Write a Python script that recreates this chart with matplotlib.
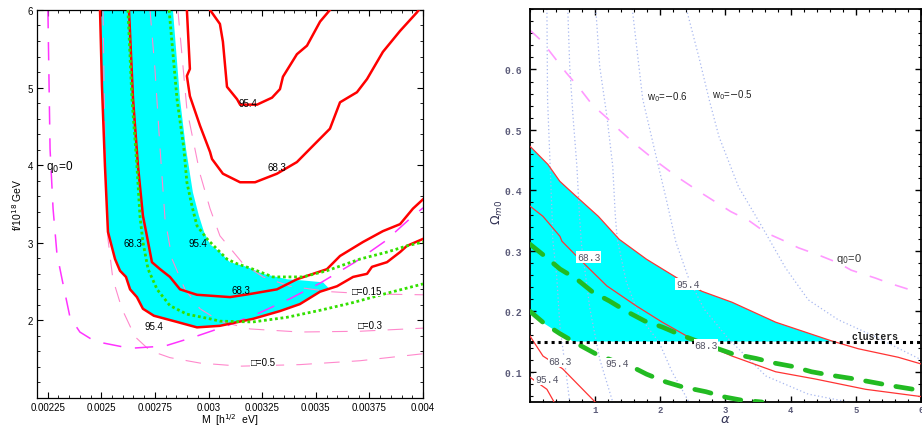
import numpy as np
import matplotlib
matplotlib.use('Agg')
import matplotlib.pyplot as plt
from matplotlib.ticker import MultipleLocator

plt.rcParams['font.family'] = ['Liberation Sans', 'DejaVu Sans']

# ---------------- left panel: M [1e-3 eV] vs f/1e18 GeV ----------------
red95_out_m = [2.494, 2.503, 2.517, 2.526, 2.531, 2.564, 2.587, 2.615, 2.634, 2.666, 2.694, 2.745, 2.853, 2.946,
               3.053, 3.207, 3.333, 3.426, 3.520, 3.599, 3.674, 3.739, 3.762, 3.832, 3.893, 3.925, 4.000]
red95_out_f = [6.00, 5.02, 3.99, 3.44, 3.14, 2.79, 2.64, 2.56, 2.40, 2.30, 2.15, 2.06, 1.98, 1.91,
               1.93, 2.02, 2.12, 2.21, 2.37, 2.44, 2.56, 2.60, 2.69, 2.75, 2.88, 2.96, 3.05]

cyan_edge_m = [3.566, 3.534, 3.459, 3.366, 3.254, 3.179, 3.100, 3.053, 3.007, 2.979, 2.955, 2.927, 2.895, 2.867, 2.834]
cyan_edge_f = [2.40, 2.49, 2.51, 2.53, 2.60, 2.69, 2.75, 2.88, 2.98, 3.14, 3.35, 3.65, 4.21, 4.85, 6.00]

red68_in_m = [2.629, 2.648, 2.671, 2.694, 2.718, 2.736, 2.774, 2.820, 2.867, 2.946, 3.100, 3.193, 3.319, 3.412,
              3.552, 3.613, 3.720, 3.813, 3.893, 3.953, 4.000]
red68_in_f = [6.00, 4.85, 3.99, 3.35, 3.01, 2.75, 2.66, 2.56, 2.40, 2.33, 2.30, 2.34, 2.40, 2.53,
              2.66, 2.83, 3.01, 3.15, 3.24, 3.44, 3.56]

red95_top_m = [3.007, 3.053, 3.067, 3.086, 3.133, 3.147, 3.226, 3.296, 3.333, 3.347, 3.412, 3.459, 3.520, 3.566]
red95_top_f = [6.00, 5.82, 5.59, 5.01, 4.85, 4.78, 4.78, 4.87, 4.98, 5.14, 5.43, 5.54, 5.85, 6.00]

red68_top_m = [2.899, 2.913, 2.899, 2.913, 2.960, 3.007, 3.016, 3.067, 3.147, 3.217, 3.319, 3.412, 3.487, 3.566,
               3.613, 3.692, 3.739, 3.813, 3.893, 3.972, 3.980]
red68_top_f = [6.00, 5.24, 5.15, 4.89, 4.51, 4.17, 4.08, 3.89, 3.78, 3.78, 3.89, 4.04, 4.25, 4.47,
               4.81, 4.94, 5.11, 5.46, 5.73, 5.97, 6.00]

green_in_m = [2.624, 2.643, 2.666, 2.680, 2.694, 2.718, 2.760, 2.820, 2.899, 3.007, 3.053, 3.207, 3.366, 3.520,
              3.674, 3.832, 4.000]
green_in_f = [6.00, 4.85, 3.99, 3.35, 3.01, 2.66, 2.40, 2.19, 2.08, 2.02, 1.99, 1.98, 2.04, 2.13, 2.23, 2.35, 2.47]

green_out_m = [2.816, 2.853, 2.885, 2.899, 2.923, 2.946, 2.993, 3.039, 3.086, 3.133, 3.207, 3.300, 3.440, 3.552,
               3.706, 3.832, 3.925, 4.000]
green_out_f = [6.00, 4.85, 4.21, 3.78, 3.47, 3.22, 3.05, 2.92, 2.79, 2.73, 2.66, 2.56, 2.56, 2.64, 2.79, 2.88, 2.96, 3.01]

q0_m = [2.251, 2.261, 2.275, 2.293, 2.317, 2.354, 2.400, 2.470, 2.634, 2.797, 2.937, 3.086, 3.240, 3.380,
        3.520, 3.683, 3.823, 3.939, 4.000]
q0_f = [6.00, 4.21, 3.44, 2.86, 2.53, 2.04, 1.85, 1.73, 1.64, 1.67, 1.79, 1.93, 2.10, 2.28, 2.48, 2.75, 3.02, 3.31, 3.45]

om015_m = [2.857, 2.899, 2.960, 3.007, 3.053, 3.161, 3.254, 3.380, 3.566, 3.753, 4.000]
om015_f = [6.00, 4.72, 3.89, 3.44, 3.09, 2.73, 2.56, 2.44, 2.37, 2.34, 2.33]
om03_m = [2.727, 2.750, 2.774, 2.797, 2.830, 2.890, 2.960, 3.053, 3.193, 3.426, 3.706, 4.000]
om03_f = [6.00, 5.24, 4.21, 3.31, 2.79, 2.40, 2.15, 1.99, 1.89, 1.85, 1.86, 1.90]
om05_m = [2.508, 2.517, 2.531, 2.554, 2.596, 2.657, 2.727, 2.820, 2.960, 3.147, 3.426, 3.706, 4.000]
om05_f = [6.00, 4.21, 3.05, 2.53, 2.15, 1.79, 1.61, 1.52, 1.45, 1.41, 1.43, 1.48, 1.57]

m_ticks = [0.00225, 0.0025, 0.00275, 0.003, 0.00325, 0.0035, 0.00375, 0.004]
m_tick_labels = ['0.00225', '0.0025', '0.00275', '0.003', '0.00325', '0.0035', '0.00375', '0.004']
f_ticks = [2, 3, 4, 5, 6]

left_labels = [('68.3', 2.648, 3.00), ('95.4', 2.951, 3.00), ('95.4', 2.745, 1.93), ('68.3', 3.151, 2.39),
               ('95.4', 3.184, 4.80), ('68.3', 3.319, 3.98)]
omega_labels = [('\u25a1=0.15', 3.739, 2.38), ('\u25a1=0.3', 3.753, 1.94), ('\u25a1=0.5', 3.254, 1.46)]

# ---------------- right panel: alpha vs Omega_m0 ----------------
r95_up_a = [0, 0.275, 0.458, 0.71, 1.05, 1.37, 1.79, 2.29, 2.64, 3.10, 3.77, 4.63, 5.04, 5.65, 6.0]
r95_up_o = [0.473, 0.443, 0.415, 0.39, 0.357, 0.319, 0.286, 0.253, 0.233, 0.215, 0.182, 0.151, 0.138, 0.124, 0.113]
r68_up_a = [0, 0.2, 0.46, 0.49, 0.81, 1.18, 1.63, 2.03, 2.49, 2.95, 3.10, 3.77, 4.38, 5.15, 6.0]
r68_up_o = [0.374, 0.357, 0.324, 0.316, 0.281, 0.242, 0.209, 0.182, 0.154, 0.133, 0.126, 0.100, 0.088, 0.071, 0.059]
r68_lo_a = [0, 0.2, 0.5, 1.0]
r68_lo_o = [0.159, 0.126, 0.105, 0.05]
r95_lo_a = [0, 0.26, 0.37]
r95_lo_o = [0.091, 0.071, 0.05]

g_up_a = [0, 0.23, 0.46, 0.72, 0.96, 1.22, 1.48, 1.76, 2.03, 2.29, 2.70, 3.10, 3.47, 3.77, 4.02, 4.32, 4.63,
          4.93, 5.19, 5.54, 6.0]
g_up_o = [0.311, 0.291, 0.27, 0.253, 0.232, 0.217, 0.2, 0.184, 0.174, 0.162, 0.145, 0.13, 0.122, 0.114, 0.109,
          0.1, 0.094, 0.089, 0.084, 0.077, 0.069]
g_lo_a = [0, 0.23, 0.46, 0.73, 1.02, 1.33, 1.57, 1.79, 2.09, 2.34, 2.70, 3.0, 3.25, 3.56]
g_lo_o = [0.2, 0.179, 0.163, 0.146, 0.129, 0.116, 0.108, 0.096, 0.083, 0.075, 0.067, 0.058, 0.053, 0.05]

w_lines = [
    ([0.26, 0.27, 0.31, 0.34, 0.35, 0.41, 0.46, 0.56, 0.61],
     [0.70, 0.55, 0.44, 0.357, 0.319, 0.258, 0.175, 0.093, 0.05]),
    ([0.58, 0.61, 0.66, 0.72, 0.76, 0.79, 0.92, 1.07, 1.27],
     [0.70, 0.605, 0.523, 0.44, 0.357, 0.311, 0.204, 0.121, 0.05]),
    ([1.01, 1.07, 1.18, 1.27, 1.31, 1.34, 1.48, 1.68, 1.98, 2.18, 2.44],
     [0.70, 0.605, 0.523, 0.44, 0.357, 0.319, 0.248, 0.192, 0.149, 0.10, 0.05]),
    ([1.57, 1.73, 1.91, 2.09, 2.24, 2.44, 2.67, 3.05, 3.62, 4.27, 4.89],
     [0.70, 0.551, 0.468, 0.386, 0.314, 0.253, 0.204, 0.154, 0.093, 0.063, 0.05]),
    ([2.40, 2.60, 2.75, 2.90, 3.20, 3.56, 3.92, 4.27, 4.73, 5.30, 6.0],
     [0.70, 0.617, 0.55, 0.489, 0.406, 0.34, 0.272, 0.219, 0.186, 0.158, 0.12]),
]

q0r_a = [0, 0.18, 0.41, 0.56, 0.76, 0.96, 1.18, 1.37, 1.63, 1.94, 2.29, 2.64, 3.08, 3.36, 3.62, 3.87, 4.12,
         4.43, 4.73, 4.93, 5.30, 5.50, 5.85, 6.0]
q0r_o = [0.665, 0.647, 0.615, 0.594, 0.569, 0.541, 0.52, 0.50, 0.475, 0.448, 0.42, 0.395, 0.365, 0.35, 0.33,
         0.318, 0.305, 0.293, 0.28, 0.268, 0.255, 0.247, 0.235, 0.23]
clusters_omega = 0.15

right_labels = [('68.3', 0.72, 0.29), ('95.4', 2.24, 0.245), ('68.3', 2.52, 0.144),
                ('68.3', 0.28, 0.118), ('95.4', 0.08, 0.088), ('95.4', 1.15, 0.114)]

fig = plt.figure(figsize=(9.22, 4.27), dpi=100)
ax1 = fig.add_axes([0.0401, 0.0656, 0.4187, 0.9087])
ax2 = fig.add_axes([0.5748, 0.0562, 0.4241, 0.9204])

def mm(v):
    return np.array(v) * 1e-3

# cyan band
k = 19
poly_m = np.concatenate([mm(red95_out_m[:k]), mm(cyan_edge_m)])
poly_f = np.concatenate([red95_out_f[:k], cyan_edge_f])
ax1.fill(poly_m, poly_f, color='#00ffff', lw=0, zorder=1)

for om_m, om_f in [(om015_m, om015_f), (om03_m, om03_f), (om05_m, om05_f)]:
    ax1.plot(mm(om_m), om_f, color='#ff88cc', lw=0.8, dashes=(14, 11), zorder=2)
ax1.plot(mm(q0_m), q0_f, color='#ff33ff', lw=1.1, dashes=(12, 9), zorder=2)

for rm, rf in [(red95_out_m, red95_out_f), (red68_in_m, red68_in_f),
               (red95_top_m, red95_top_f), (red68_top_m, red68_top_f)]:
    ax1.plot(mm(rm), rf, color='#ff0000', lw=1.8, zorder=3)

for gm, gf in [(green_in_m, green_in_f), (green_out_m, green_out_f)]:
    ax1.plot(mm(gm), gf, color='#33e000', lw=2.0, linestyle=(0, (1, 1)), zorder=4)

for txt, lm, lf in left_labels:
    ax1.text(lm * 1e-3, lf, txt, fontsize=7, ha='center', va='center', zorder=5)
for txt, lm, lf in omega_labels:
    ax1.text(lm * 1e-3, lf, txt, fontsize=7, ha='center', va='center', zorder=5,
             bbox=dict(facecolor='white', edgecolor='none', pad=0.3))
ax1.text(0.002243, 3.99, r'q$_0$=0', fontsize=8.5, ha='left', va='center', zorder=5)

ax1.set_xlim(0.0022, 0.004)
ax1.set_ylim(1, 6)
ax1.set_xticks(m_ticks)
ax1.set_xticklabels(m_tick_labels)
ax1.set_yticks(f_ticks)
ax1.set_yticklabels([str(t) for t in f_ticks])
ax1.xaxis.set_minor_locator(MultipleLocator(0.00005))
ax1.yaxis.set_minor_locator(MultipleLocator(0.2))
ax1.tick_params(which='both', direction='in', top=True, right=True, labelsize=7, pad=3)
ax1.tick_params(which='major', length=4, width=0.8)
ax1.tick_params(which='minor', length=2, width=0.6)
ax1.set_xlabel(r'M  [h$^{1/2}$  eV]', fontsize=7.5, va='center')
ax1.xaxis.set_label_coords(0.5, -0.054)
ax1.set_ylabel(r'f/10$^{18}$ GeV', fontsize=7.5, va='center')
ax1.yaxis.set_label_coords(-0.052, 0.5)
for sp in ax1.spines.values():
    sp.set_linewidth(0.9)

# ---------------- right panel ----------------
ra = np.array(r95_up_a)
ro = np.array(r95_up_o)
keep = ro >= clusters_omega
x_cross = np.interp(clusters_omega, ro[::-1], ra[::-1])
ga = np.array(g_lo_a)
go = np.array(g_lo_o)
g_keep = go >= clusters_omega
g_cross = np.interp(clusters_omega, go[::-1], ga[::-1])
cyan_a = np.concatenate([[0], ra[keep], [x_cross, g_cross], ga[g_keep][::-1]])
cyan_o = np.concatenate([[ro[0]], ro[keep], [clusters_omega, clusters_omega], go[g_keep][::-1]])
ax2.fill(cyan_a, cyan_o, color='#00ffff', lw=0, zorder=1)

for wa, wo in w_lines:
    ax2.plot(wa, wo, color='#a8b8f0', lw=0.9, linestyle=(0, (1, 2)), zorder=2)
ax2.plot(q0r_a, q0r_o, color='#ff99ff', lw=1.2, dashes=(8, 8), zorder=2)

for a_, o_ in [(r95_up_a, r95_up_o), (r68_up_a, r68_up_o), (r68_lo_a, r68_lo_o), (r95_lo_a, r95_lo_o)]:
    ax2.plot(a_, o_, color='#ff3333', lw=0.9, zorder=3)

for a_, o_ in [(g_up_a, g_up_o), (g_lo_a, g_lo_o)]:
    ax2.plot(a_, o_, color='#22bb22', lw=3.4, dashes=(3.5, 3), dash_capstyle='round', zorder=4)

ax2.axhline(clusters_omega, color='black', lw=2.2, linestyle=(0, (1, 1.3)), zorder=5)

mono = ['Liberation Mono', 'DejaVu Sans Mono']
for txt, la, lo in right_labels:
    ax2.text(la, lo, txt, fontsize=7, family=mono, color='#555566', ha='left', va='center', zorder=6,
             bbox=dict(facecolor='white', edgecolor='none', pad=0.5))
ax2.text(4.93, 0.159, 'clusters', fontsize=7, family=mono, fontweight='bold', color='#222222',
         ha='left', va='center', zorder=6)
ax2.text(1.79, 0.556, r'w$_0$=$-$0.6', fontsize=7, ha='left', va='center', color='#222222', zorder=6)
ax2.text(2.79, 0.559, r'w$_0$=$-$0.5', fontsize=7, ha='left', va='center', color='#222222', zorder=6)
ax2.text(4.70, 0.288, r'q$_0$=0', fontsize=8, ha='left', va='center', color='#333333', zorder=6)

ax2.set_xlim(0, 6)
ax2.set_ylim(0.05, 0.7)
ax2.set_xticks([1, 2, 3, 4, 5, 6])
ax2.set_yticks([0.1, 0.2, 0.3, 0.4, 0.5, 0.6])
ax2.xaxis.set_minor_locator(MultipleLocator(0.2))
ax2.yaxis.set_minor_locator(MultipleLocator(0.02))
ax2.tick_params(which='both', direction='in', top=True, right=True, labelsize=7,
                labelcolor='#5a5a78')
ax2.tick_params(axis='x', pad=2, labelsize=6.5)
ax2.tick_params(axis='y', pad=6)
ax2.tick_params(which='major', length=4, width=1.0)
ax2.tick_params(which='minor', length=2, width=0.8)
for lbl in ax2.get_xticklabels() + ax2.get_yticklabels():
    lbl.set_fontfamily(mono)
    lbl.set_fontweight('bold')
ax2.set_xlabel(r'$\alpha$', fontsize=9.5, color='#333355', va='bottom')
ax2.xaxis.set_label_coords(0.5, -0.0585)
ax2.set_ylabel(r'$\Omega_{m0}$', fontsize=9, color='#333355', va='center')
ax2.yaxis.set_label_coords(-0.084, 0.486)
for sp in ax2.spines.values():
    sp.set_linewidth(1.3)

fig.savefig('out.png', dpi=100)
